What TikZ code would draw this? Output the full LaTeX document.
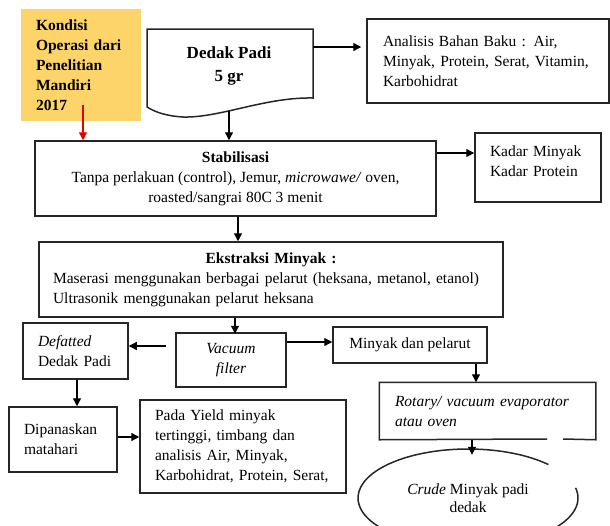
\documentclass[tikz,border=0pt]{standalone}
\usepackage{fontspec}
\setmainfont{Liberation Serif}
\usetikzlibrary{arrows.meta,shapes.geometric}
\definecolor{condyellow}{RGB}{253,212,105}
\newcommand\fsmain{\fontsize{15.5}{20}\selectfont}
\newcommand\fsbig{\fontsize{17}{23}\selectfont}
\begin{document}
\begin{tikzpicture}[x=1pt,y=-1pt,
  box/.style={draw=black!85,line width=1.5pt,inner ysep=0pt,font=\fsmain},
  lbox/.style={box,align=left},
  cbox/.style={box,align=center},
  arr/.style={-{Triangle[length=8pt,width=8pt]},line width=1.3pt,black},
  redarr/.style={-{Triangle[length=8pt,width=8pt]},line width=1.3pt,red!90!black}]
\useasboundingbox (0,0) rectangle (610,525);
% condition box
\node[fill=condyellow,minimum width=120pt,minimum height=112pt,inner xsep=15pt,
      align=left,text width=90pt,font=\fsmain\bfseries] (cond) at (81,65)
  {Kondisi\\Operasi dari\\Penelitian\\Mandiri\\2017};
% document shape
\draw[line width=1.5pt,draw=black!85] (147,29) -- (313,29) -- (313,98)
  .. controls (265,97) and (220,118) .. (183,117)
  .. controls (166,116) and (155,112) .. (147,107) -- cycle;
\node[align=center,font=\fsbig\bfseries] (dedak) at (229,66) {Dedak Padi\\5 gr};
\coordinate (dedakbot) at (229,111);
\coordinate (dedakright) at (313,47);
% boxes
\node[lbox,minimum width=242pt,minimum height=84pt,inner xsep=16pt,text width=210pt] (anal) at (488,61)
  {Analisis Bahan Baku : Air,\\Minyak, Protein, Serat, Vitamin,\\Karbohidrat};
\node[cbox,minimum width=401pt,minimum height=75pt] (stab) at (235.5,178.5)
  {\textbf{Stabilisasi}\\Tanpa perlakuan (control), Jemur, \textit{microwawe/} oven,\\roasted/sangrai 80C 3 menit};
\node[lbox,minimum width=126pt,minimum height=69pt,inner xsep=15pt,text width=96pt] (kadar) at (538,167.5)
  {Kadar Minyak\\Kadar Protein\\[-8pt]\mbox{}};
\node[lbox,minimum width=464pt,minimum height=75pt,inner xsep=14pt,text width=436pt] (ekst) at (271,279.5)
  {\makebox[\linewidth]{\textbf{Ekstraksi Minyak :}}\\Maserasi menggunakan berbagai pelarut (heksana, metanol, etanol)\\Ultrasonik menggunakan pelarut heksana};
\node[cbox,minimum width=110pt,minimum height=54pt] (vac) at (231,360)
  {\textit{Vacuum}\\\textit{filter}};
\node[lbox,minimum width=105pt,minimum height=56pt,inner xsep=15pt,text width=75pt] (def) at (75.5,351)
  {\textit{Defatted}\\Dedak Padi};
\node[cbox,minimum width=154pt,minimum height=36pt] (minyak) at (410,345)
  {Minyak dan pelarut};
\node[lbox,draw=none,minimum width=215pt,minimum height=56pt,inner xsep=15pt,text width=185pt] (rot) at (487.5,411)
  {\textit{Rotary/ vacuum evaporator}\\\textit{atau oven}};
\coordinate (gapL) at (547,439);
\coordinate (gapR) at (563,439);
\draw[line width=1.5pt,draw=black!85] (gapL) -- (rot.south west) -- (rot.north west) -- (rot.north east) -- (rot.south east) -- (gapR);
\node[lbox,minimum width=108pt,minimum height=65pt,inner xsep=15pt,text width=78pt] (dip) at (63,439.5)
  {Dipanaskan\\matahari};
\node[lbox,minimum width=206pt,minimum height=93pt,inner xsep=15pt,text width=176pt] (pada) at (243,446.5)
  {Pada Yield minyak\\tertinggi, timbang dan\\analisis Air, Minyak,\\Karbohidrat, Protein, Serat,};
\node[ellipse,minimum width=220pt,minimum height=98pt,inner sep=0pt,align=center,
      font=\fontsize{15.5}{18}\selectfont] (crude) at (468,498)
  {\textit{Crude} Minyak padi\\dedak};
\draw[line width=1.5pt,draw=black!85] (crude.center) ++(-43:110 and 49)
  arc[start angle=-43,end angle=-372,x radius=110,y radius=49];
% connectors
\coordinate (rs) at (83,105);
\draw[redarr] (rs) -- (rs |- stab.north);
\draw[arr] (dedakbot) -- (dedakbot |- stab.north);
\draw[arr] (dedakright) -- ([xshift=-5pt]dedakright -| anal.west);
\draw[arr] (stab.east |- 0,153) -- (kadar.west |- 0,153);
\draw[arr] (stab.south -| 238,0) -- (ekst.north -| 238,0);
\draw[arr] (ekst.south -| vac.north) ++(4,0) -- ++(0,16);
\draw[arr,shorten <=9pt] (vac.west |- 0,346) -- (def.east |- 0,346);
\draw[arr] (vac.east |- 0,342) -- (minyak.west |- 0,342);
\draw[arr] (minyak.south -| 476,0) -- (rot.north -| 476,0);
\draw[arr] (rot.south -| 472,0) -- ([yshift=-6pt]crude.north -| 472,0);
\draw[arr] (def.south -| 77,0) -- (dip.north -| 77,0);
\draw[arr] (dip.east |- 0,437) -- (pada.west |- 0,437);
\end{tikzpicture}
\end{document}
